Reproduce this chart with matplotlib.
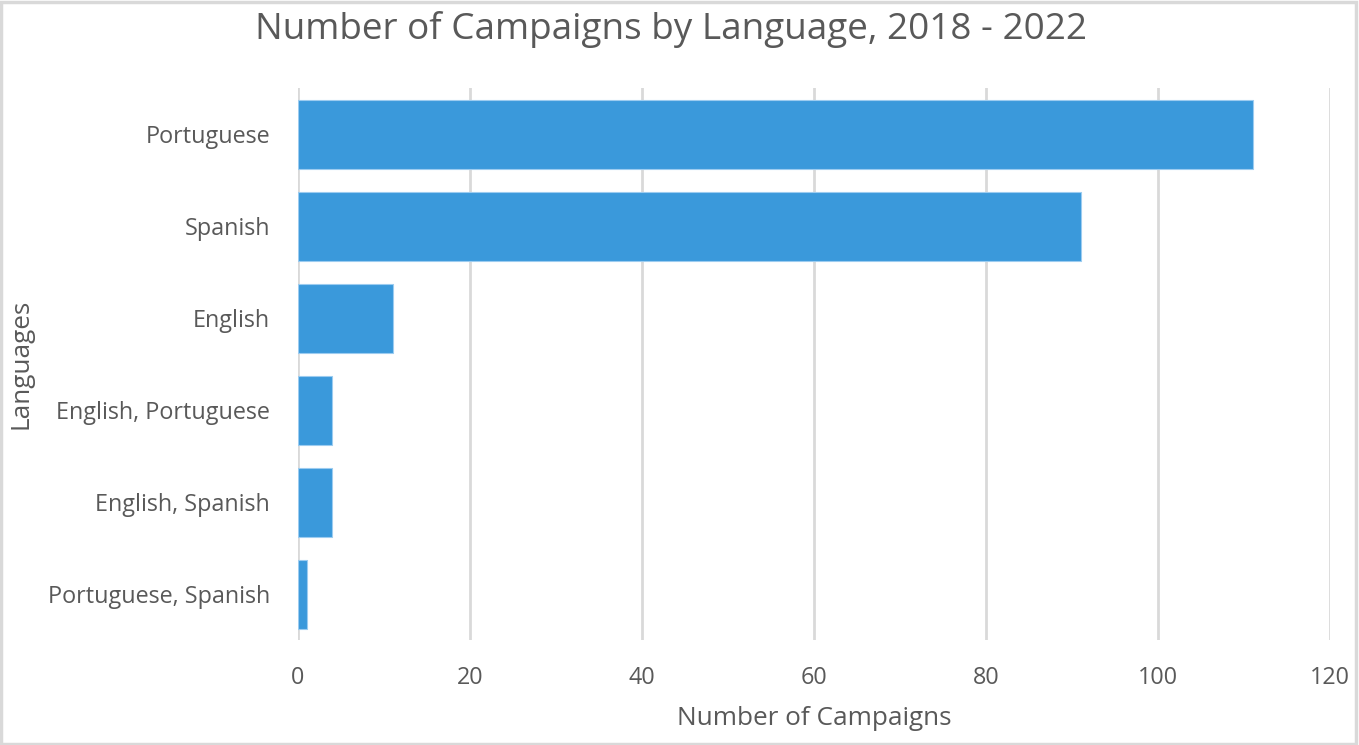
import matplotlib
matplotlib.use("Agg")
import matplotlib.pyplot as plt
from matplotlib.patches import Rectangle

# 数据
languages = ["Portuguese", "Spanish", "English", "English, Portuguese",
             "English, Spanish", "Portuguese, Spanish"]
campaigns = [111, 91, 11, 4, 4, 1]
x_ticks = [0, 20, 40, 60, 80, 100, 120]

text_color = "#595959"
bar_color = "#3A99DB"

plt.rcParams['font.family'] = ['Open Sans', 'DejaVu Sans']

fig = plt.figure(figsize=(13.59, 7.45), dpi=100)
ax = fig.add_axes([298 / 1359, 1 - 640 / 745, (1330 - 298) / 1359, (640 - 88) / 745])

ypos = list(range(len(languages)))
ax.barh(ypos, campaigns, height=0.75, color=bar_color,
        edgecolor="#9cccf0", linewidth=0.8, zorder=3)

ax.set_ylim(len(languages) - 0.5, -0.5)
ax.set_xlim(0, 120)
ax.set_yticks(ypos)
ax.set_yticklabels(languages)
ax.set_xticks(x_ticks)
ax.tick_params(axis='both', length=0, labelsize=16.8, colors=text_color)
ax.tick_params(axis='y', pad=20)
ax.tick_params(axis='x', pad=19)

ax.grid(axis='x', color="#d9d9d9", linewidth=2, zorder=0)
for s in ax.spines.values():
    s.set_visible(False)

ax.set_xlabel("Number of Campaigns", fontsize=18.8, color=text_color, va='center')
ax.xaxis.set_label_coords(0.5, -0.143)
ax.set_ylabel("Languages", fontsize=18.8, color=text_color, va='center')
ax.yaxis.set_label_coords(-0.268, 0.5)
fig.text(671 / 1359, 1 - 29 / 745, "Number of Campaigns by Language, 2018 - 2022",
         ha='center', va='center', fontsize=26.6, color=text_color)

# 外框
fig.patches.append(Rectangle((0.001, 0.002), 0.997, 0.995, transform=fig.transFigure,
                             fill=False, edgecolor="#d9d9d9", linewidth=2.5))

fig.savefig("out.png", dpi=100)
